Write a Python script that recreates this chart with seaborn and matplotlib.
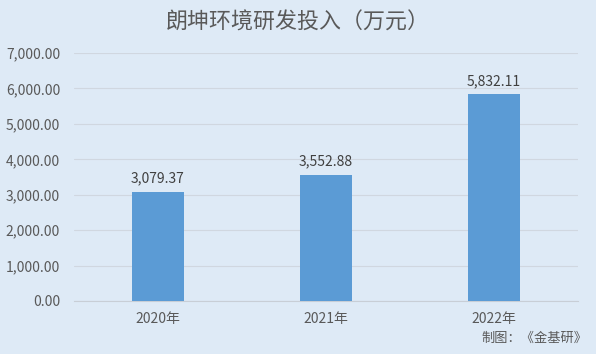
import matplotlib
matplotlib.use("Agg")
import matplotlib.pyplot as plt
import seaborn as sns
import pandas as pd

# data
years = ["2020年", "2021年", "2022年"]
spend = [3079.37, 3552.88, 5832.11]

df = pd.DataFrame({"year": years, "spend": spend})

sns.set_style("white")
plt.rcParams['font.family'] = ['Noto Sans CJK SC', 'DejaVu Sans']

bg = "#DEEAF6"
txt = "#595959"

fig = plt.figure(figsize=(5.96, 3.54), dpi=100, facecolor=bg)
ax = fig.add_axes([0.124, 0.150, 0.846, 0.700])
ax.set_facecolor(bg)

sns.barplot(data=df, x="year", y="spend", color="#5B9BD5", width=0.31,
            saturation=1, linewidth=0, ax=ax, zorder=3)

ax.set_ylim(0, 7000)
ax.set_yticks(range(0, 7001, 1000))
ax.set_yticklabels([f"{v:,.2f}" for v in range(0, 7001, 1000)])
ax.set_xlim(-0.5, 2.5)
ax.grid(axis="y", color="#D0D7E0", linewidth=0.8, zorder=0)
ax.set_xlabel("")
ax.set_ylabel("")
for s in ["top", "right", "left"]:
    ax.spines[s].set_visible(False)
ax.spines["bottom"].set_color("#C8CED6")
ax.tick_params(axis="both", length=0, colors=txt, labelsize=10)
ax.tick_params(axis="x", pad=8)
ax.tick_params(axis="y", pad=10)

# value labels
for i, v in enumerate(spend):
    ax.text(i, v + 180, f"{v:,.2f}", ha="center", va="bottom", fontsize=10, color="#404040")

fig.text(0.5, 0.935, "朗坤环境研发投入（万元）", ha="center", va="center", fontsize=15.8, color=txt)
fig.text(0.985, 0.025, "制图：《金基研》", ha="right", va="bottom", fontsize=9.5, color=txt)

fig.savefig("out.png", dpi=100, facecolor=bg)
